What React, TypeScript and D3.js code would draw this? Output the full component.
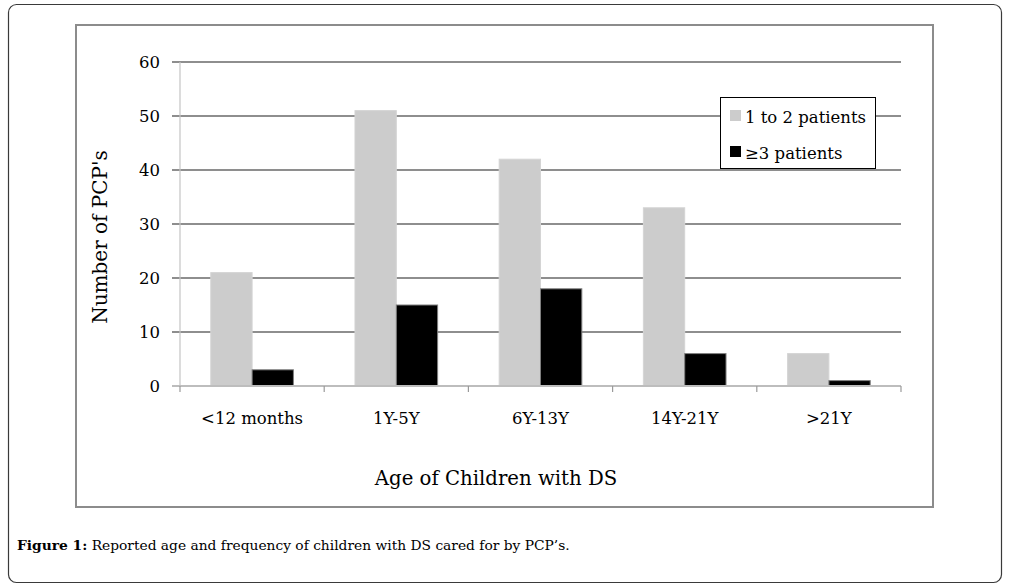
import * as d3 from 'd3';
import * as React from 'react';

const categories = ['<12 months', '1Y-5Y', '6Y-13Y', '14Y-21Y', '>21Y'];
const seriesNames = ['1 to 2 patients', '≥3 patients'];
const oneToTwo = [21, 51, 42, 33, 6];
const threePlus = [3, 15, 18, 6, 1];
const yTicks = [0, 10, 20, 30, 40, 50, 60];

const W = 1010;
const H = 587;
const plot = { left: 180, right: 901, top: 62, bottom: 386 };
const chartFont = '"DejaVu Serif", serif';
const colors = ['#cccccc', '#000000'];
const strokes = ['#d4d4d4', '#7f7f7f'];

export default function App() {
    const x0 = d3.scaleBand<string>()
        .domain(categories)
        .range([plot.left, plot.right])
        .paddingInner(0)
        .paddingOuter(0);
    const x1 = d3.scaleBand<string>()
        .domain(seriesNames)
        .range([0, x0.bandwidth()])
        .paddingInner(0)
        .paddingOuter(0.745);
    const y = d3.scaleLinear()
        .domain([0, 60])
        .range([plot.bottom, plot.top]);

    const values = [oneToTwo, threePlus];
    const boundaries = categories.map(c => x0(c) as number).concat([plot.right]);

    return (
        <svg width={W} height={H} style={{ position: 'absolute', left: 0, top: 0, background: '#fff' }}>
            {/* outer figure border */}
            <rect x={8.5} y={4.5} width={993} height={578} rx={8} ry={8}
                fill="#fff" stroke="#3a3a3a" strokeWidth={1.2} />
            {/* chart frame */}
            <rect x={76} y={25} width={857} height={482} fill="#fff" stroke="#8c8c8c" strokeWidth={2} />

            {/* gridlines */}
            {yTicks.filter(t => t > 0).map(t => (
                <line key={t} x1={172} x2={plot.right} y1={y(t)} y2={y(t)} stroke="#8e8e8e" strokeWidth={2} />
            ))}
            {/* y axis */}
            <line x1={plot.left} x2={plot.left} y1={plot.top} y2={plot.bottom} stroke="#c4c4c4" strokeWidth={1.2} />
            {yTicks.map(t => (
                <text key={t} x={160} y={y(t) + 6} textAnchor="end" fontFamily={chartFont} fontSize={16.5} fill="#000">{t}</text>
            ))}

            {/* bars */}
            {categories.map((c, i) => (
                <g key={c} transform={`translate(${x0(c)},0)`}>
                    {seriesNames.map((s, j) => (
                        <rect key={s}
                            x={x1(s)}
                            y={y(values[j][i])}
                            width={x1.bandwidth()}
                            height={y(0) - y(values[j][i])}
                            fill={colors[j]}
                            stroke={strokes[j]}
                            strokeWidth={1} />
                    ))}
                </g>
            ))}

            {/* x axis */}
            <line x1={172} x2={plot.right} y1={plot.bottom} y2={plot.bottom} stroke="#bdbdbd" strokeWidth={2} />
            {boundaries.map((b, i) => (
                <line key={i} x1={b} x2={b} y1={plot.bottom} y2={plot.bottom + 6} stroke="#9a9a9a" strokeWidth={1.2} />
            ))}
            {categories.map(c => (
                <text key={c} x={(x0(c) as number) + x0.bandwidth() / 2} y={424} textAnchor="middle"
                    fontFamily={chartFont} fontSize={16.5} fill="#000">{c}</text>
            ))}

            {/* axis titles */}
            <text x={496} y={485} textAnchor="middle" fontFamily={chartFont} fontSize={19.7} fill="#000">
                Age of Children with DS
            </text>
            <text transform={`translate(107,237) rotate(-90)`} textAnchor="middle" fontFamily={chartFont}
                fontSize={20} fill="#000">Number of PCP's</text>

            {/* legend */}
            <rect x={720.5} y={97.5} width={155} height={71} fill="#fff" stroke="#000" strokeWidth={1} />
            {seriesNames.map((s, j) => (
                <g key={s} transform={`translate(730,${110 + j * 36})`}>
                    <rect x={0} y={0} width={11} height={11} fill={colors[j]} />
                    <text x={15} y={13} fontFamily={chartFont} fontSize={16.5} fill="#000">{s}</text>
                </g>
            ))}

            {/* caption */}
            <text x={17} y={550} fontFamily={chartFont} fontSize={13.8} fill="#000">
                <tspan fontWeight="bold">Figure 1:</tspan> Reported age and frequency of children with DS cared for by PCP’s.
            </text>
        </svg>
    );
}
